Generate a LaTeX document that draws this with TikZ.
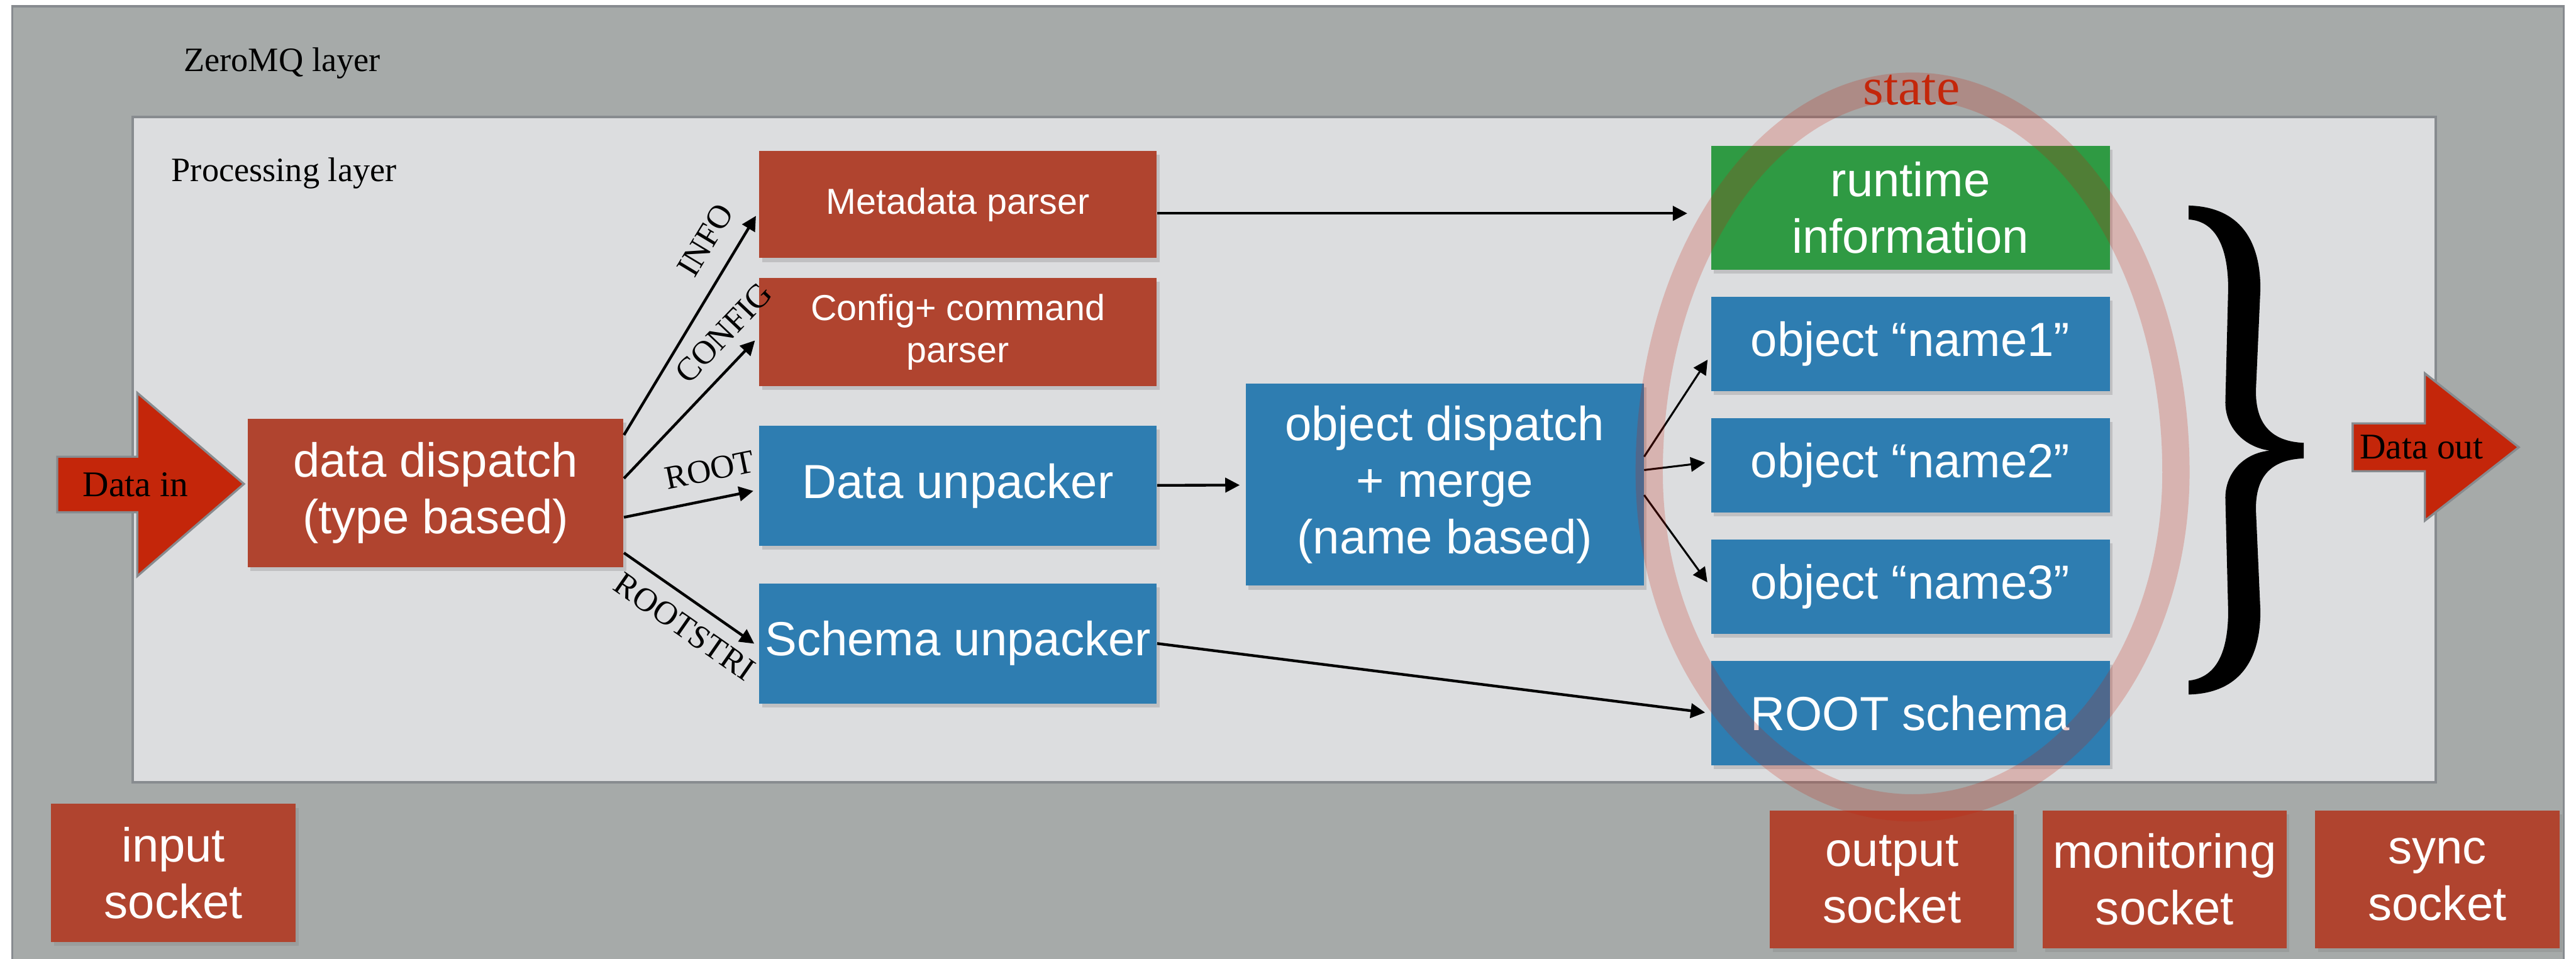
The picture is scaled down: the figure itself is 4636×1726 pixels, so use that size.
\documentclass[tikz,border=0pt]{standalone}
\usepackage{fontspec}
\setmainfont{Liberation Serif}
\setsansfont{Liberation Sans}
\usetikzlibrary{arrows.meta,positioning,shadows}

\definecolor{zmqgray}{HTML}{A6AAA9}
\definecolor{proclight}{HTML}{DCDDDF}
\definecolor{framegray}{HTML}{878B8F}
\definecolor{brick}{HTML}{B0442F}
\definecolor{steel}{HTML}{2E7DB1}
\definecolor{leaf}{HTML}{2F9A43}
\definecolor{signal}{HTML}{C4260A}
\definecolor{ringred}{HTML}{C81E0A}

\begin{document}
\begin{tikzpicture}[x=0.01cm,y=-0.01cm,>={Triangle[length=0.26cm,width=0.26cm]},node distance=0.47cm,
	block/.style={rectangle,inner sep=0pt,text=white,align=center,font=\sffamily\fontsize{24.5}{29}\selectfont,
		drop shadow={shadow xshift=0.05cm,shadow yshift=-0.07cm,opacity=0.3}},
	redblock/.style={block,fill=brick},
	blueblock/.style={block,fill=steel},
	greenblock/.style={block,fill=leaf},
	parser/.style={redblock,minimum width=7.15cm,font=\sffamily\fontsize{18.5}{21.6}\selectfont},
	unpacker/.style={blueblock,minimum width=7.15cm,minimum height=2.16cm},
	statebox/.style={blueblock,minimum width=7.17cm,minimum height=1.70cm},
	socket/.style={redblock,minimum width=4.39cm,minimum height=2.48cm},
	layer/.style={font=\rmfamily\fontsize{17.5}{21}\selectfont,anchor=base west,inner sep=0pt},
	flow/.style={->,line width=1.4pt,shorten >=0.1cm},
	thinflow/.style={flow,line width=1pt},
	tag/.style={font=\rmfamily\fontsize{17}{20}\selectfont,sloped,inner sep=0pt},
	bigarrow/.style={fill=signal,draw=framegray,line width=1.1pt},
	inout/.style={font=\rmfamily\fontsize{18.5}{22}\selectfont,inner sep=0pt}]

\useasboundingbox (0,0) rectangle (4636,1726);
\fill[white] (0,0) rectangle (4636,1726);

% layers
\draw[fill=zmqgray,draw=framegray,line width=1.2pt] (22,11) rectangle (4614,1745);
\draw[fill=proclight,draw=framegray,line width=1.3pt] (239,210) rectangle (4384,1408);
\node[layer]	(zmqlabel)	at (330,128)	{ZeroMQ layer};
\node[layer]	(proclabel)	at (308,327)	{Processing layer};

% data in / out
\draw[bigarrow] (103,822) -- (247,822) -- (247,707) -- (439,871) -- (247,1037) -- (247,922) -- (103,922) -- cycle;
\node[inout]	(datain)	at (244,872)	{Data in};
\draw[bigarrow] (4234,762) -- (4364,762) -- (4364,672) -- (4533,805) -- (4364,937) -- (4364,848) -- (4234,848) -- cycle;
\node[inout]	(dataout)	at (4358,805)	{Data out};

\node[redblock,minimum width=6.76cm,minimum height=2.67cm]	(disp)	at (784,887)	{data dispatch\\(type based)};

\node[parser,minimum height=1.93cm]	(meta)	at (1724,368)	{Metadata parser};
\node[parser,minimum height=1.95cm]	(conf)	[below=0.34cm of meta]	{Config+ command\\parser};
\node[unpacker]	(unpack)	[below=0.70cm of conf]	{Data unpacker};
\node[unpacker]	(schema)	[below=0.66cm of unpack]	{Schema unpacker};

\node[blueblock,minimum width=7.16cm,minimum height=3.64cm]	(objdisp)	at (2600,872)	{object dispatch\\+ merge\\(name based)};

\node[greenblock,minimum width=7.17cm,minimum height=2.23cm]	(runtime)	at (3438,374)	{runtime\\information};
\node[statebox]	(name1)	[below=of runtime]	{object “name1”};
\node[statebox]	(name2)	[below=of name1]	{object “name2”};
\node[statebox]	(name3)	[below=of name2]	{object “name3”};
\node[statebox,minimum height=1.88cm]	(rschema)	[below=of name3]	{ROOT schema};

% sockets
\node[socket,minimum width=4.40cm]	(insock)	at (312,1571)	{input\\socket};
\node[socket]	(outsock)	at (3405,1583)	{output\\socket};
\node[socket]	(monsock)	[right=0.5cm of outsock]	{monitoring\\socket};
\node[socket]	(syncsock)	[right=0.5cm of monsock]	{sync\\socket};

\path[flow]	([yshift=1.04cm]disp.east)	edge	node[tag,above=0.33cm,pos=0.8]	{INFO}	([yshift=-0.12cm]meta.west)
	([yshift=0.26cm]disp.east)	edge	node[tag,above=0.28cm,pos=0.89]	{CONFIG}	([yshift=-0.08cm]conf.west)
	([yshift=-0.44cm]disp.east)	edge	node[tag,above=0.30cm,pos=0.68]	{ROOT}	([yshift=-0.07cm]unpack.west)
	([yshift=-1.08cm]disp.east)	edge	node[tag,below=0.24cm,pos=0.56]	{ROOTSTRI}	([yshift=-0.06cm]schema.west)
	(unpack)	edge	(objdisp)
	(schema.east)	edge	(rschema.west);

\coordinate (metaout) at ([yshift=-0.16cm]meta.east);
\draw[flow,shorten >=0.42cm] (metaout) -- (metaout -| runtime.west);

\path[thinflow]	([yshift=0.5cm]objdisp.east)	edge	([yshift=-0.2cm]name1.west)
	([yshift=0.26cm]objdisp.east)	edge	([yshift=0.06cm]name2.west)
	([yshift=-0.19cm]objdisp.east)	edge	(name3.west);

% brace
\fill[black] (3939,370) .. controls (4020,372) and (4068,420) .. (4068,520) -- (4060,700)
	.. controls (4058,770) and (4095,795) .. (4146,797) -- (4146,825)
	.. controls (4095,827) and (4058,850) .. (4060,920) -- (4068,1100)
	.. controls (4068,1200) and (4020,1248) .. (3939,1250) -- (3939,1225)
	.. controls (3985,1220) and (4010,1180) .. (4010,1100) -- (4005,900)
	.. controls (4003,850) and (4040,815) .. (4085,811)
	.. controls (4040,805) and (4003,770) .. (4005,720) -- (4010,520)
	.. controls (4010,440) and (3985,398) .. (3939,395) -- cycle;

% state ring
\draw[line width=0.49cm,draw=ringred,draw opacity=0.22] (2968,850) .. controls (2968,466) and (3180,155) .. (3442,155)
	.. controls (3704,155) and (3916,466) .. (3916,850)
	.. controls (3916,1184) and (3704,1454) .. (3442,1454)
	.. controls (3180,1454) and (2968,1184) .. (2968,850) -- cycle;
\node[font=\rmfamily\fontsize{27}{32}\selectfont,text=signal,inner sep=0pt]	(statelabel)	at (3440,162)	{state};

\end{tikzpicture}
\end{document}
